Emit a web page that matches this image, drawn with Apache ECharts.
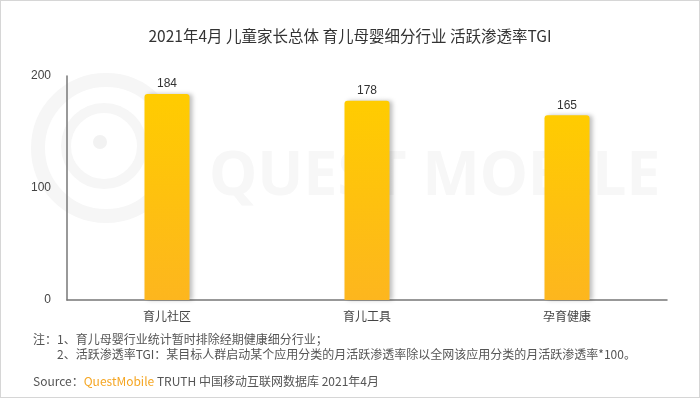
<!DOCTYPE html>
<html>
<head>
<meta charset="utf-8">
<script src="https://cdn.jsdelivr.net/npm/echarts@6/dist/echarts.min.js"></script>
<style>
  html, body { margin: 0; padding: 0; background: #fff; }
  #main { width: 700px; height: 398px; box-sizing: border-box; border: 1px solid #d6d6d6; }
</style>
</head>
<body>
<div id="main"></div>
<script>
var categories = ['育儿社区', '育儿工具', '孕育健康'];
var tgiValues = [184, 178, 165];
var yTicks = [0, 100, 200];

var font = '"Microsoft YaHei", "Noto Sans CJK SC", sans-serif';
var chart = echarts.init(document.getElementById('main'), null, { width: 698, height: 396 });

var option = {
  backgroundColor: '#ffffff',
  animation: false,
  title: {
    text: '2021年4月 儿童家长总体 育儿母婴细分行业 活跃渗透率TGI',
    left: 'center',
    top: 22,
    textStyle: { fontFamily: font, fontSize: 15.5, fontWeight: 'normal', color: '#333' }
  },
  graphic: [
    // watermark
    { type: 'circle', left: 30, top: 72, z: -10, shape: { r: 68 },
      style: { fill: 'none', stroke: '#f6f6f6', lineWidth: 14 } },
    { type: 'circle', left: 60, top: 102, z: -10, shape: { r: 38 },
      style: { fill: 'none', stroke: '#f6f6f6', lineWidth: 10 } },
    { type: 'circle', left: 92, top: 134, z: -10, shape: { r: 7 },
      style: { fill: '#f2f2f2' } },
    { type: 'text', left: 208, top: 146, z: -10,
      style: { text: 'QUEST MOBILE', font: 'bold 61px "Noto Sans", sans-serif', fill: '#f7f7f7' } },
    // notes
    { type: 'text', left: 32, top: 332,
      style: { text: '注：1、育儿母婴行业统计暂时排除经期健康细分行业；', font: '12px ' + font, fill: '#555' } },
    { type: 'text', left: 56, top: 347,
      style: { text: '2、活跃渗透率TGI：某目标人群启动某个应用分类的月活跃渗透率除以全网该应用分类的月活跃渗透率*100。', font: '12px ' + font, fill: '#555' } },
    { type: 'text', left: 32, top: 374,
      style: {
        text: '{a|Source：}{b|QuestMobile}{a| TRUTH 中国移动互联网数据库 2021年4月}',
        font: '12px ' + font,
        fill: '#555',
        rich: {
          a: { fontFamily: font, fontSize: 12, fill: '#555' },
          b: { fontFamily: font, fontSize: 12, fill: '#f5a623' }
        }
      } }
  ],
  grid: { left: 66, right: 32, top: 75, bottom: 97 },
  xAxis: {
    type: 'category',
    data: categories,
    axisLine: { lineStyle: { color: '#777', width: 1.5 } },
    axisTick: { show: false },
    axisLabel: { fontFamily: font, fontSize: 12, color: '#444', margin: 10 }
  },
  yAxis: {
    type: 'value',
    min: yTicks[0],
    max: yTicks[yTicks.length - 1],
    interval: 100,
    splitLine: { show: false },
    axisLine: { show: true, lineStyle: { color: '#777', width: 1.5 } },
    axisTick: { show: false },
    axisLabel: { fontFamily: 'Arial, "Liberation Sans", sans-serif', fontSize: 12, color: '#444', margin: 16 }
  },
  series: [{
    type: 'bar',
    data: tgiValues,
    barWidth: 45,
    itemStyle: {
      borderRadius: [3, 3, 0, 0],
      color: new echarts.graphic.LinearGradient(0, 0, 0, 1, [
        { offset: 0, color: '#ffcc00' },
        { offset: 1, color: '#fdb61e' }
      ]),
      shadowColor: 'rgba(0,0,0,0.25)',
      shadowBlur: 4,
      shadowOffsetX: 3,
      shadowOffsetY: 0
    },
    label: {
      show: true,
      position: 'top',
      distance: 4,
      fontFamily: 'Arial, "Liberation Sans", sans-serif',
      fontSize: 12,
      color: '#333'
    }
  }]
};

chart.setOption(option);
</script>
</body>
</html>
